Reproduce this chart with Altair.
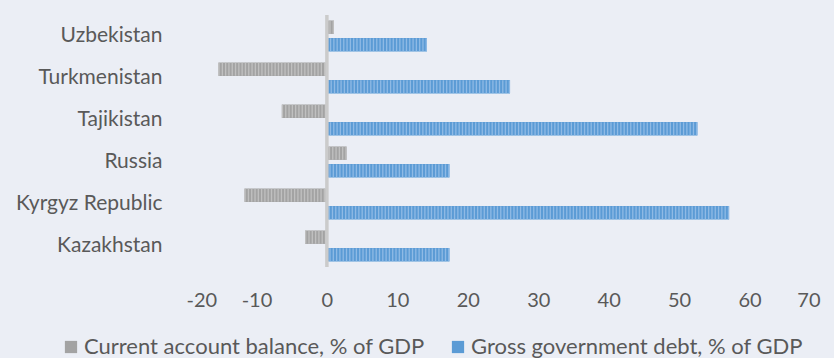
import altair as alt
import pandas as pd

countries = ["Uzbekistan", "Turkmenistan", "Tajikistan", "Russia", "Kyrgyz Republic", "Kazakhstan"]
series = ["Current account balance, % of GDP", "Gross government debt, % of GDP"]
current_account = [1.0, -15.4, -6.4, 2.8, -11.7, -3.1]
gov_debt = [14.2, 26.0, 52.6, 17.4, 57.1, 17.4]
x_ticks = [-20, -10, 0, 10, 20, 30, 40, 50, 60, 70]

rows = []
for c, a, d in zip(countries, current_account, gov_debt):
    rows.append({"country": c, "series": series[0], "value": a})
    rows.append({"country": c, "series": series[1], "value": d})
df = pd.DataFrame(rows)

FONT = "Lato"
TXT = "#595959"
BG = "#EBEEF5"

y_enc = alt.Y("country:N", sort=countries,
              scale=alt.Scale(paddingInner=0.26, paddingOuter=0.13),
              axis=alt.Axis(title=None, ticks=False, domain=False, labelFont=FONT,
                            labelFontSize=21, labelColor=TXT, labelPadding=24))
yoff = alt.YOffset("series:N", sort=series,
                   scale=alt.Scale(paddingInner=0.235, paddingOuter=0))
x_enc = alt.X("value:Q", scale=alt.Scale(domain=[-20, 70], nice=False, zero=True),
              axis=alt.Axis(title=None, values=x_ticks, ticks=False, domain=False, grid=False,
                            labelExpr="'' + datum.value",
                            labelFont=FONT, labelFontSize=20, labelColor=TXT, labelPadding=23))

base = alt.Chart(df)

bars = base.mark_bar().encode(
    y=y_enc, yOffset=yoff, x=x_enc,
    color=alt.Color("series:N", sort=series,
                    scale=alt.Scale(domain=series, range=["#A3A3A3", "#5B9BD5"]),
                    legend=alt.Legend(orient="none", legendX=-126, legendY=321,
                                      direction="horizontal", title=None,
                                      symbolType="square", symbolSize=150,
                                      symbolStrokeWidth=0, labelFont=FONT,
                                      labelFontSize=22, labelColor=TXT, labelLimit=0,
                                      columnPadding=22, labelOffset=2, padding=0)),
)

stripes = base.mark_rule(strokeDash=[1.3, 2], strokeWidth=13, strokeCap="butt").encode(
    y=alt.Y("country:N", sort=countries), yOffset=yoff,
    x=alt.X("value:Q"), x2=alt.datum(0),
    stroke=alt.Stroke("series:N", sort=series,
                      scale=alt.Scale(domain=series, range=["#C0C0C0", "#8FBAE5"]),
                      legend=None),
)

zero = alt.Chart(pd.DataFrame({"z": [0]})).mark_rule(color="#CBCBCB", strokeWidth=3.5).encode(
    x=alt.X("z:Q")
)

chart = alt.layer(bars, stripes, zero).properties(
    width=634, height=252,
    background=BG,
    padding={"left": 186, "top": 15, "right": 14, "bottom": 91},
    autosize=alt.AutoSizeParams(type="none"),
).configure_view(stroke=None)

chart.save("out.html", embed_options={"renderer": "svg", "actions": False})
